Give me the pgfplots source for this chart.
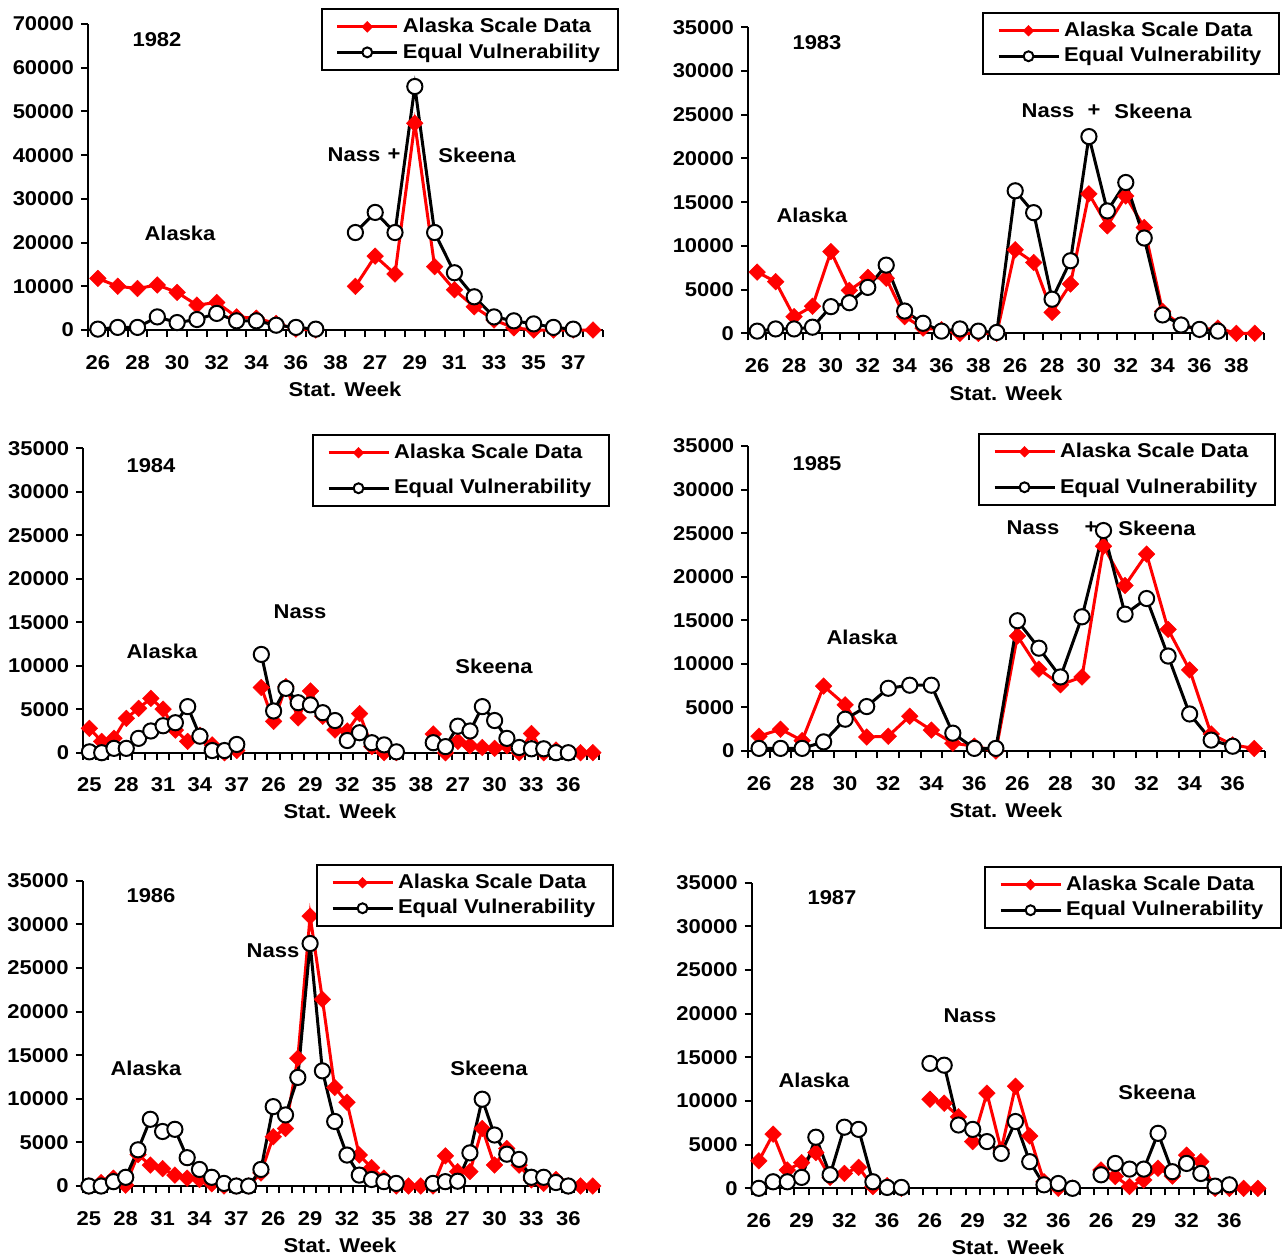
\documentclass[border=0pt]{standalone}
\usepackage{fontspec}
\setmainfont{Liberation Sans}[FakeStretch=1.1]
\usepackage{pgfplots}
\pgfplotsset{compat=1.18}
\definecolor{xred}{RGB}{255,0,0}
\newcommand{\ff}{\fontsize{10}{12}\selectfont\bfseries}
\pgfplotsset{
  panel/.style={
    scale only axis, clip=false,
    anchor=south west,
    axis x line=bottom, axis y line=left,
    axis line style={-, line width=1pt, black},
    tick align=outside, major tick length=3.5pt,
    tick style={black, line width=1pt},
    ymin=0, unbounded coords=jump,
    scaled y ticks=false,
    xticklabels={},
    tick label style={font=\ff},
    extra x tick style={major tick length=0pt, xticklabel style={yshift=-9pt}},
    legend cell align=left,
    legend style={draw=black, line width=1pt, font=\ff, anchor=north west,
      inner xsep=7pt, inner ysep=2.5pt, nodes={inner sep=2pt}},
    legend image code/.code={
      \draw[mark repeat=2,mark phase=2,##1,/tikz/every mark/.append style={scale=0.65}]
        plot coordinates {(0pt,0pt) (15pt,0pt) (30pt,0pt)};
    },
  },
  redser/.style={color=xred, line width=1.5pt, mark=square*, mark size=2.95pt,
    mark options={rotate=45, fill=xred, draw=xred, line width=0.2pt}},
  blkser/.style={color=black, line width=1.5pt, mark=*, mark size=3.8pt,
    mark options={fill=white, draw=black, line width=1pt}},
}
\begin{document}
\begin{tikzpicture}
\path[use as bounding box] (0,0) rectangle (641pt,-630pt);

% ---------------- 1982 ----------------
\begin{axis}[panel, at={(44pt,-165pt)}, width=257.5pt, height=153pt,
  xmin=-0.5, xmax=25.5, ymax=70000,
  ytick={0,10000,20000,30000,40000,50000,60000,70000},
  yticklabels={0,10000,20000,30000,40000,50000,60000,70000},
  xtick={-0.5,0.5,...,25.5},
  extra x ticks={0,2,4,6,8,10,12,14,16,18,20,22,24},
  extra x tick labels={26,28,30,32,34,36,38,27,29,31,33,35,37},
  legend style={at={(0.452,1.052)}}]
\addplot[redser] coordinates {(0,11800)(1,10000)(2,9500)(3,10300)(4,8600)(5,5700)(6,6300)(7,3000)(8,2700)(9,1500)(10,200)(11,0)(12,nan)(13,10000)(14,16900)(15,12800)(16,47300)(17,14500)(18,9200)(19,5300)(20,2300)(21,500)(22,0)(23,0)(24,0)(25,0)};
\addlegendentry{Alaska Scale Data}
\addplot[blkser] coordinates {(0,200)(1,600)(2,600)(3,3000)(4,1700)(5,2400)(6,3800)(7,2100)(8,2100)(9,1100)(10,600)(11,200)(12,nan)(13,22300)(14,26900)(15,22300)(16,55700)(17,22300)(18,13100)(19,7600)(20,3000)(21,2100)(22,1400)(23,600)(24,200)};
\addlegendentry{Equal Vulnerability}
\end{axis}

% ---------------- 1983 ----------------
\begin{axis}[panel, at={(374pt,-166.65pt)}, width=258pt, height=153pt,
  xmin=-0.5, xmax=27.5, ymax=35000,
  ytick={0,5000,10000,15000,20000,25000,30000,35000},
  yticklabels={0,5000,10000,15000,20000,25000,30000,35000},
  xtick={-0.5,0.5,...,27.5},
  extra x ticks={0,2,4,6,8,10,12,14,16,18,20,22,24,26},
  extra x tick labels={26,28,30,32,34,36,38,26,28,30,32,34,36,38},
  legend style={at={(0.4535,1.050)}}]
\addplot[redser] coordinates {(0,7000)(1,5900)(2,1900)(3,3100)(4,9350)(5,4900)(6,6400)(7,6300)(8,1900)(9,600)(10,400)(11,0)(12,0)(13,0)(14,9550)(15,8100)(16,2400)(17,5650)(18,15950)(19,12300)(20,15700)(21,12100)(22,2500)(23,950)(24,400)(25,600)(26,0)(27,0)};
\addlegendentry{Alaska Scale Data}
\addplot[blkser] coordinates {(0,250)(1,500)(2,500)(3,700)(4,3050)(5,3500)(6,5250)(7,7800)(8,2550)(9,1150)(10,250)(11,500)(12,250)(13,100)(14,16300)(15,13800)(16,3900)(17,8300)(18,22500)(19,14000)(20,17250)(21,10900)(22,2100)(23,950)(24,450)(25,250)};
\addlegendentry{Equal Vulnerability}
\end{axis}

% ---------------- 1984 ----------------
\begin{axis}[panel, at={(41.65pt,-376.35pt)}, width=257.85pt, height=152.2pt,
  xmin=-0.5, xmax=41.5, ymax=35000,
  ytick={0,5000,10000,15000,20000,25000,30000,35000},
  yticklabels={0,5000,10000,15000,20000,25000,30000,35000},
  xtick={-0.5,0.5,...,41.5},
  extra x ticks={0,3,6,9,12,15,18,21,24,27,30,33,36,39},
  extra x tick labels={25,28,31,34,37,26,29,32,35,38,27,30,33,36},
  legend style={at={(0.4435,1.047)}, /tikz/row sep=5pt}]
\addplot[redser] coordinates {(0,2800)(1,1300)(2,1650)(3,3950)(4,5100)(5,6250)(6,5000)(7,2600)(8,1300)(9,2000)(10,900)(11,0)(12,250)(13,nan)(14,7500)(15,3600)(16,7600)(17,4000)(18,7100)(19,4200)(20,2600)(21,2500)(22,4500)(23,700)(24,0)(25,0)(26,nan)(27,nan)(28,2150)(29,0)(30,1300)(31,800)(32,600)(33,500)(34,800)(35,0)(36,2200)(37,0)(38,300)(39,0)(40,0)(41,0)};
\addlegendentry{Alaska Scale Data}
\addplot[blkser] coordinates {(0,100)(1,0)(2,500)(3,500)(4,1650)(5,2500)(6,3100)(7,3450)(8,5300)(9,1900)(10,250)(11,250)(12,950)(13,nan)(14,11300)(15,4800)(16,7400)(17,5750)(18,5500)(19,4600)(20,3700)(21,1400)(22,2300)(23,1150)(24,900)(25,100)(26,nan)(27,nan)(28,1150)(29,700)(30,3050)(31,2500)(32,5300)(33,3700)(34,1650)(35,600)(36,450)(37,450)(38,0)(39,0)};
\addlegendentry{Equal Vulnerability}
\end{axis}

% ---------------- 1985 ----------------
\begin{axis}[panel, at={(374.15pt,-375.5pt)}, width=258.35pt, height=152.5pt,
  xmin=-0.5, xmax=23.5, ymax=35000,
  ytick={0,5000,10000,15000,20000,25000,30000,35000},
  yticklabels={0,5000,10000,15000,20000,25000,30000,35000},
  xtick={-0.5,0.5,...,23.5},
  extra x ticks={0,2,4,6,8,10,12,14,16,18,20,22},
  extra x tick labels={26,28,30,32,34,36,26,28,30,32,34,36},
  legend style={at={(0.4446,1.0426)}, /tikz/row sep=5pt}]
\addplot[redser] coordinates {(0,1700)(1,2500)(2,1200)(3,7450)(4,5300)(5,1600)(6,1700)(7,4000)(8,2400)(9,900)(10,550)(11,0)(12,13200)(13,9400)(14,7600)(15,8500)(16,23500)(17,19000)(18,22600)(19,13950)(20,9300)(21,1950)(22,700)(23,300)};
\addlegendentry{Alaska Scale Data}
\addplot[blkser] coordinates {(0,300)(1,300)(2,300)(3,1050)(4,3650)(5,5100)(6,7200)(7,7550)(8,7550)(9,2050)(10,300)(11,300)(12,14950)(13,11800)(14,8500)(15,15400)(16,25300)(17,15700)(18,17500)(19,10900)(20,4250)(21,1250)(22,550)};
\addlegendentry{Equal Vulnerability}
\end{axis}

% ---------------- 1986 ----------------
\begin{axis}[panel, at={(41.35pt,-593pt)}, width=258.15pt, height=152.65pt,
  xmin=-0.5, xmax=41.5, ymax=35000,
  ytick={0,5000,10000,15000,20000,25000,30000,35000},
  yticklabels={0,5000,10000,15000,20000,25000,30000,35000},
  xtick={-0.5,0.5,...,41.5},
  extra x ticks={0,3,6,9,12,15,18,21,24,27,30,33,36,39},
  extra x tick labels={25,28,31,34,37,26,29,32,35,38,27,30,33,36},
  legend style={at={(0.4519,1.0547)}}]
\addplot[redser] coordinates {(0,0)(1,400)(2,900)(3,100)(4,3600)(5,2400)(6,2000)(7,1250)(8,900)(9,750)(10,250)(11,0)(12,0)(13,0)(14,1500)(15,5650)(16,6600)(17,14650)(18,30950)(19,21400)(20,11300)(21,9600)(22,3550)(23,2100)(24,900)(25,0)(26,0)(27,0)(28,0)(29,3450)(30,1650)(31,1650)(32,6600)(33,2400)(34,4300)(35,2400)(36,700)(37,300)(38,750)(39,0)(40,0)(41,0)};
\addlegendentry{Alaska Scale Data}
\addplot[blkser] coordinates {(0,0)(1,0)(2,500)(3,1000)(4,4150)(5,7650)(6,6250)(7,6500)(8,3250)(9,1900)(10,1000)(11,300)(12,0)(13,0)(14,1900)(15,9100)(16,8150)(17,12450)(18,27800)(19,13200)(20,7400)(21,3550)(22,1250)(23,750)(24,500)(25,300)(26,nan)(27,nan)(28,300)(29,500)(30,550)(31,3800)(32,9950)(33,5850)(34,3650)(35,3050)(36,1000)(37,1000)(38,400)(39,0)};
\addlegendentry{Equal Vulnerability}
\end{axis}

% ---------------- 1987 ----------------
\begin{axis}[panel, at={(375.85pt,-594.15pt)}, width=256.65pt, height=152.8pt,
  xmin=-0.5, xmax=35.5, ymax=35000,
  ytick={0,5000,10000,15000,20000,25000,30000,35000},
  yticklabels={0,5000,10000,15000,20000,25000,30000,35000},
  xtick={-0.5,0.5,...,35.5},
  extra x ticks={0,3,6,9,12,15,18,21,24,27,30,33},
  extra x tick labels={26,29,32,36,26,29,32,36,26,29,32,36},
  legend style={at={(0.4526,1.0547)}}]
\addplot[redser] coordinates {(0,3150)(1,6200)(2,2100)(3,2950)(4,4100)(5,1250)(6,1700)(7,2400)(8,200)(9,300)(10,0)(11,nan)(12,10200)(13,9750)(14,8200)(15,5350)(16,10900)(17,4400)(18,11700)(19,6000)(20,750)(21,0)(22,0)(23,nan)(24,2100)(25,1350)(26,200)(27,950)(28,2300)(29,1400)(30,3800)(31,3050)(32,0)(33,0)(34,0)(35,0)};
\addlegendentry{Alaska Scale Data}
\addplot[blkser] coordinates {(0,0)(1,750)(2,750)(3,1250)(4,5850)(5,1550)(6,7000)(7,6750)(8,750)(9,100)(10,100)(11,nan)(12,14300)(13,14100)(14,7250)(15,6750)(16,5350)(17,4000)(18,7650)(19,3050)(20,400)(21,550)(22,0)(23,nan)(24,1550)(25,2850)(26,2200)(27,2200)(28,6300)(29,1900)(30,2850)(31,1700)(32,250)(33,400)};
\addlegendentry{Equal Vulnerability}
\end{axis}

% ---------------- annotations ----------------
\begin{scope}[every node/.style={font=\ff, inner sep=0pt}]
\node at (78.5pt,-20pt) {1982};
\node at (90pt,-116.5pt) {Alaska};
\node at (177pt,-77.5pt) {Nass};
\node at (197pt,-77.5pt) {+};
\node at (238.5pt,-77.5pt) {Skeena};
\node at (172.5pt,-194.5pt) {Stat. Week};

\node at (408.5pt,-21.5pt) {1983};
\node at (406pt,-107.5pt) {Alaska};
\node at (524pt,-55.5pt) {Nass};
\node at (547pt,-55.5pt) {+};
\node at (576.5pt,-55.5pt) {Skeena};
\node at (503pt,-196.5pt) {Stat. Week};

\node at (75.5pt,-233pt) {1984};
\node at (81pt,-325.5pt) {Alaska};
\node at (150pt,-306pt) {Nass};
\node at (247pt,-333pt) {Skeena};
\node at (170pt,-405.5pt) {Stat. Week};

\node at (408.5pt,-232pt) {1985};
\node at (431pt,-318.5pt) {Alaska};
\node at (516.5pt,-264pt) {Nass};
\node at (545.5pt,-264pt) {+};
\node at (578.5pt,-264pt) {Skeena};
\node at (503pt,-405pt) {Stat. Week};

\node at (75.5pt,-448pt) {1986};
\node at (73pt,-534pt) {Alaska};
\node at (136.5pt,-475.5pt) {Nass};
\node at (244.5pt,-534pt) {Skeena};
\node at (170pt,-622.5pt) {Stat. Week};

\node at (416pt,-449pt) {1987};
\node at (407pt,-540pt) {Alaska};
\node at (485pt,-508pt) {Nass};
\node at (578.5pt,-546pt) {Skeena};
\node at (504pt,-623.5pt) {Stat. Week};
\end{scope}
\end{tikzpicture}
\end{document}
